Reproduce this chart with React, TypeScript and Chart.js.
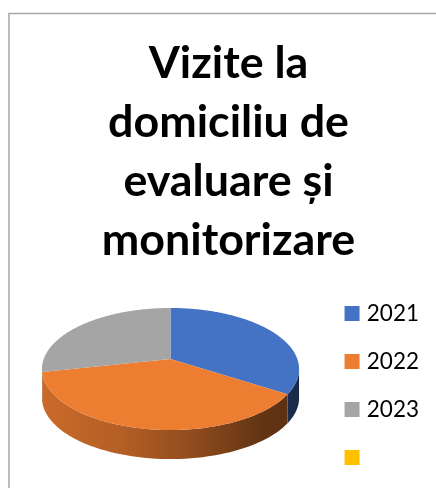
import React, { useEffect, useRef } from "react";
import { Chart, registerables } from "chart.js";

Chart.register(...registerables);

const categories = ["2021", "2022", "2023", ""];
const seriesValues = [34.1, 37.5, 28.4, 0];
const sliceColors = ["#4472c4", "#ed7d31", "#a5a5a5", "#ffc000"];
const titleLines = ["Vizite la", "domiciliu de", "evaluare și", "monitorizare"];

const PIE_RADIUS = 126.8;
const TILT_A = 59.4;
const PERSP = 0.164;
const APEX_SHIFT = -26.5;
const CENTER_SHIFT = -5;
const DEPTH = 29;

function shade(hex: string, f: number) {
  const n = parseInt(hex.slice(1), 16);
  return `rgb(${((n >> 16) & 255) * f},${((n >> 8) & 255) * f},${(n & 255) * f})`;
}

const pie3d = {
  id: "pie3d",
  beforeDraw(chart: any) {
    const { ctx } = chart;
    ctx.save();
    ctx.strokeStyle = "#a6a6a6";
    ctx.lineWidth = 1.5;
    ctx.beginPath();
    ctx.moveTo(9, 488);
    ctx.lineTo(9, 13.5);
    ctx.lineTo(436, 13.5);
    ctx.stroke();
    ctx.restore();
  },
  beforeDatasetDraw(chart: any, args: any) {
    const { ctx } = chart;
    const arcs = args.meta.data;
    const cx = arcs[0].x + CENTER_SHIFT;
    const cy = arcs[0].y + APEX_SHIFT;
    const b = arcs[0].outerRadius;
    const pt = (t: number) => {
      const w = 1 - PERSP * Math.sin(t);
      return [cx + (b * Math.cos(t)) / w, cy + (TILT_A * Math.sin(t)) / w];
    };
    const tMin = Math.asin(PERSP);
    const tMax = Math.PI - tMin;
    ctx.save();
    arcs.forEach((arc: any, i: number) => {
      if (arc.endAngle - arc.startAngle <= 0) return;
      const s = Math.max(arc.startAngle, tMin);
      const e = Math.min(arc.endAngle, tMax);
      if (e <= s) return;
      const g = ctx.createLinearGradient(cx - b, 0, cx + b, 0);
      const col = sliceColors[i];
      g.addColorStop(0, shade(col, 0.85));
      g.addColorStop(0.3, shade(col, 0.76));
      g.addColorStop(0.6, shade(col, 0.6));
      g.addColorStop(0.85, shade(col, 0.42));
      g.addColorStop(1, shade(col, 0.38));
      ctx.fillStyle = g;
      ctx.beginPath();
      const n = 60;
      for (let k = 0; k <= n; k++) {
        const p = pt(s + ((e - s) * k) / n);
        ctx.lineTo(p[0], p[1]);
      }
      for (let k = n; k >= 0; k--) {
        const p = pt(s + ((e - s) * k) / n);
        ctx.lineTo(p[0], p[1] + DEPTH);
      }
      ctx.closePath();
      ctx.fill();
    });
    arcs.forEach((arc: any, i: number) => {
      if (arc.endAngle - arc.startAngle <= 0) return;
      ctx.fillStyle = sliceColors[i];
      ctx.beginPath();
      ctx.moveTo(cx, cy);
      const n = 120;
      for (let k = 0; k <= n; k++) {
        const p = pt(arc.startAngle + ((arc.endAngle - arc.startAngle) * k) / n);
        ctx.lineTo(p[0], p[1]);
      }
      ctx.closePath();
      ctx.fill();
    });
    ctx.restore();
    return false;
  },
};

export default function App() {
  const ref = useRef<HTMLCanvasElement>(null);
  useEffect(() => {
    document.body.style.margin = "0";
    const chart = new Chart(ref.current!, {
      type: "pie",
      data: {
        labels: categories,
        datasets: [
          {
            data: seriesValues,
            backgroundColor: sliceColors,
            borderWidth: 0,
            radius: PIE_RADIUS,
          } as any,
        ],
      },
      plugins: [pie3d as any],
      options: {
        responsive: false,
        animation: false,
        layout: { padding: { left: 28, right: 7, top: 0, bottom: 0 } },
        plugins: {
          tooltip: { enabled: false },
          title: {
            display: true,
            text: titleLines,
            color: "#000000",
            font: { family: "Lato", weight: "bold", size: 44.8, lineHeight: 1.317 },
            padding: { top: 34, bottom: 1 },
          },
          legend: {
            position: "right",
            align: "center",
            fullSize: false,
            labels: {
              color: "#000000",
              font: { family: "Lato", size: 22.5 },
              boxWidth: 7,
              boxHeight: 7,
              padding: 25.5,
              generateLabels: () =>
                categories.map((c, i) => ({
                  text: c,
                  fillStyle: sliceColors[i],
                  strokeStyle: sliceColors[i],
                  lineWidth: 8,
                  hidden: false,
                  index: i,
                })),
            },
          },
        },
      },
    });
    return () => chart.destroy();
  }, []);
  return (
    <div style={{ width: 436, height: 488, overflow: "hidden" }}>
      <canvas ref={ref} width={436} height={500} style={{ display: "block" }} />
    </div>
  );
}
